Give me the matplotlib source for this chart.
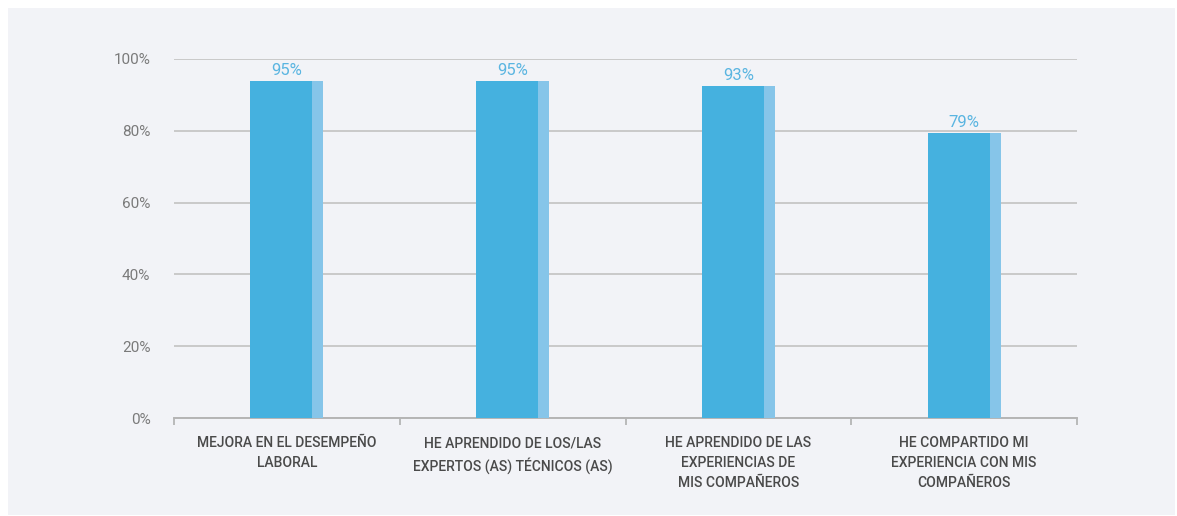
import matplotlib.pyplot as plt
from matplotlib.patches import Rectangle
from matplotlib.ticker import FixedLocator

# Data
categories = ['MEJORA EN EL DESEMPEÑO\nLABORAL',
              'HE APRENDIDO DE LOS/LAS\nEXPERTOS (AS) TÉCNICOS (AS)',
              'HE APRENDIDO DE LAS\nEXPERIENCIAS DE\nMIS COMPAÑEROS',
              'HE COMPARTIDO MI\nEXPERIENCIA CON MIS\nCOMPAÑEROS']
bar_heights = [94, 94, 92.5, 79.5]
value_labels = ['95%', '95%', '93%', '79%']
y_ticks = [0, 20, 40, 60, 80, 100]

FONT = ['Roboto', 'DejaVu Sans']
BAR_COLOR = '#45b1df'
STRIP_COLOR = '#86c5e9'
PANEL_COLOR = '#f2f3f7'

fig = plt.figure(figsize=(11.77, 5.16), dpi=100)
fig.patch.set_facecolor('white')
# light panel behind the chart
fig.patches.append(Rectangle((8 / 1177, 1 / 516), 1167 / 1177, 507 / 516,
                             transform=fig.transFigure, facecolor=PANEL_COLOR,
                             edgecolor='none', zorder=-10))

ax = fig.add_axes([174 / 1177, 98 / 516, 903 / 1177, 359 / 516])
ax.set_facecolor('none')

x = list(range(len(categories)))
total_w = 0.323
main_w = 0.275
strip_w = total_w - main_w
left = [xi - total_w / 2 for xi in x]
ax.bar(left, bar_heights, width=main_w, align='edge', color=BAR_COLOR,
       zorder=3)
ax.bar([l + main_w for l in left], bar_heights, width=strip_w, align='edge',
       color=STRIP_COLOR, zorder=3)

for xi, h, lab in zip(x, bar_heights, value_labels):
    ax.annotate(lab, (xi, h), xytext=(0, 2), textcoords='offset points',
                ha='center', va='bottom', fontsize=12, color='#5ab5e1',
                family=FONT, clip_on=False)

ax.set_xlim(-0.5, len(categories) - 0.5)
ax.set_ylim(0, 100)

ax.set_yticks(y_ticks)
ax.set_yticklabels([f'{t}%' for t in y_ticks], family=FONT, fontsize=11,
                   color='#7a7a7a')
ax.tick_params(axis='y', length=0, pad=17)
ax.grid(axis='y', color='#c9c9c9', linewidth=1.4, zorder=1)

ax.set_xticks(x)
ax.set_xticklabels(categories, family=FONT, fontsize=10, color='#4a4a4a',
                   fontweight='medium', linespacing=1.55)
ax.tick_params(axis='x', which='major', length=0, pad=13)
ax.xaxis.set_minor_locator(FixedLocator([i - 0.5 for i in range(len(categories) + 1)]))
ax.tick_params(axis='x', which='minor', length=5, width=1.3, color='#b5b5b5',
               direction='out')

for side in ['top', 'right', 'left']:
    ax.spines[side].set_visible(False)
ax.spines['bottom'].set_color('#b5b5b5')
ax.spines['bottom'].set_linewidth(1.4)

fig.savefig('out.png', dpi=100)
